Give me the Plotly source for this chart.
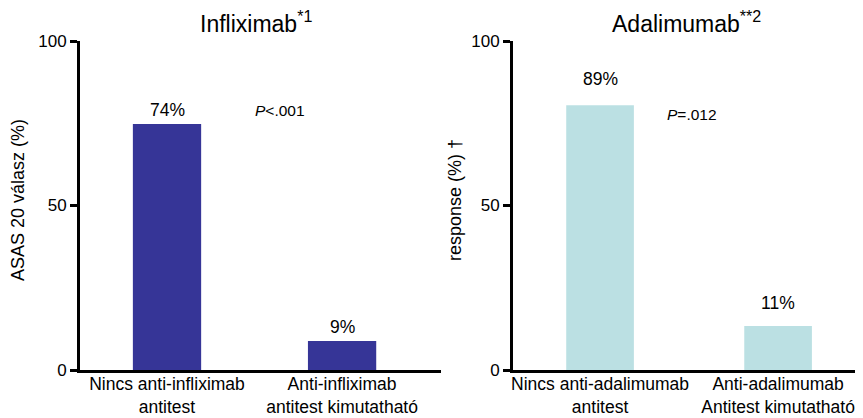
import plotly.graph_objects as go

# Data
inf_categories = ["Nincs anti-infliximab<br>antitest", "Anti-infliximab<br>antitest kimutatható"]
inf_values = [74.8, 8.8]
inf_labels = ["74%", "9%"]

ada_categories = ["Nincs anti-adalimumab<br>antitest", "Anti-adalimumab<br>Antitest kimutatható"]
ada_values = [80.5, 13.4]
ada_labels = ["89%", "11%"]

y_ticks = [0, 50, 100]

FONT = "Liberation Sans, Arial, Helvetica, sans-serif"

# page has an 8px body margin: figure is placed at (8, 8)
OFF = 8
W, H = 863 - OFF, 418 - OFF
TOP, BOT = 41, 370  # screen y of 100 and 0


def px(X):
    return (X - OFF) / W


def py(Y):
    return (BOT - Y) / (BOT - TOP)


fig = go.Figure()
fig.add_trace(go.Bar(x=[0, 1], y=inf_values, width=0.39, marker=dict(color="#363597", line=dict(width=0)),
                     xaxis="x", yaxis="y", showlegend=False, hoverinfo="skip"))
fig.add_trace(go.Bar(x=[0, 1], y=ada_values, width=0.38, marker=dict(color="#BBE0E3", line=dict(width=0)),
                     xaxis="x2", yaxis="y2", showlegend=False, hoverinfo="skip"))

line_common = dict(showline=True, linecolor="black", linewidth=3, showgrid=False, zeroline=False)
y_common = dict(ticks="outside", ticklen=7, tickwidth=3, tickcolor="black",
                tickfont=dict(size=17, color="black", family=FONT), **line_common)
x_common = dict(ticks="", tickfont=dict(size=17.5, color="black", family=FONT),
                ticklabelstandoff=-4, **line_common)

fig.update_layout(
    width=W, height=H,
    margin=dict(l=0, r=0, t=TOP - OFF, b=418 - BOT, autoexpand=False),
    paper_bgcolor="white", plot_bgcolor="white",
    font=dict(family=FONT, color="black"),
    xaxis=dict(domain=[px(80), px(441)], range=[-0.497, 1.565], tickvals=[0, 1], ticktext=inf_categories,
               anchor="y", **x_common),
    yaxis=dict(range=[0, 100], tickvals=y_ticks, anchor="x", **y_common),
    xaxis2=dict(domain=[px(513), 1.0], range=[-0.489, 1.477], tickvals=[0, 1], ticktext=ada_categories,
                anchor="y2", **x_common),
    yaxis2=dict(range=[0, 100], tickvals=y_ticks, anchor="x2", **y_common),
)

anns = []
# Titles
anns.append(dict(text="Infliximab<sup>*1</sup>", x=px(256), y=py(22), xref="paper", yref="paper",
                 showarrow=False, font=dict(size=23), yanchor="middle", xanchor="center"))
anns.append(dict(text="Adalimumab<sup>**2</sup>", x=px(686), y=py(22), xref="paper", yref="paper",
                 showarrow=False, font=dict(size=23), yanchor="middle", xanchor="center"))
# y-axis titles
anns.append(dict(text="ASAS 20 válasz (%)", x=px(18), y=py(200), xref="paper", yref="paper",
                 textangle=-90, showarrow=False, font=dict(size=18), xanchor="center", yanchor="middle"))
anns.append(dict(text="response (%) †", x=px(455), y=py(200), xref="paper", yref="paper",
                 textangle=-90, showarrow=False, font=dict(size=18), xanchor="center", yanchor="middle"))
# value labels
for i, (v, t) in enumerate(zip(inf_values, inf_labels)):
    anns.append(dict(text=t, x=i, y=v, xref="x", yref="y", showarrow=False, yanchor="bottom",
                     xanchor="center", yshift=2, font=dict(size=17.5)))
ada_label_shift = [14, 11]
for i, (v, t) in enumerate(zip(ada_values, ada_labels)):
    anns.append(dict(text=t, x=i, y=v, xref="x2", yref="y2", showarrow=False, yanchor="bottom",
                     xanchor="center", yshift=ada_label_shift[i], font=dict(size=17.5)))
# p-values
anns.append(dict(text="<i>P</i>&lt;.001", x=px(280), y=py(111), xref="paper", yref="paper",
                 showarrow=False, font=dict(size=15.5), xanchor="center", yanchor="middle"))
anns.append(dict(text="<i>P</i>=.012", x=px(692), y=py(114), xref="paper", yref="paper",
                 showarrow=False, font=dict(size=15.5), xanchor="center", yanchor="middle"))
fig.update_layout(annotations=anns)

fig.write_html("out.html")
